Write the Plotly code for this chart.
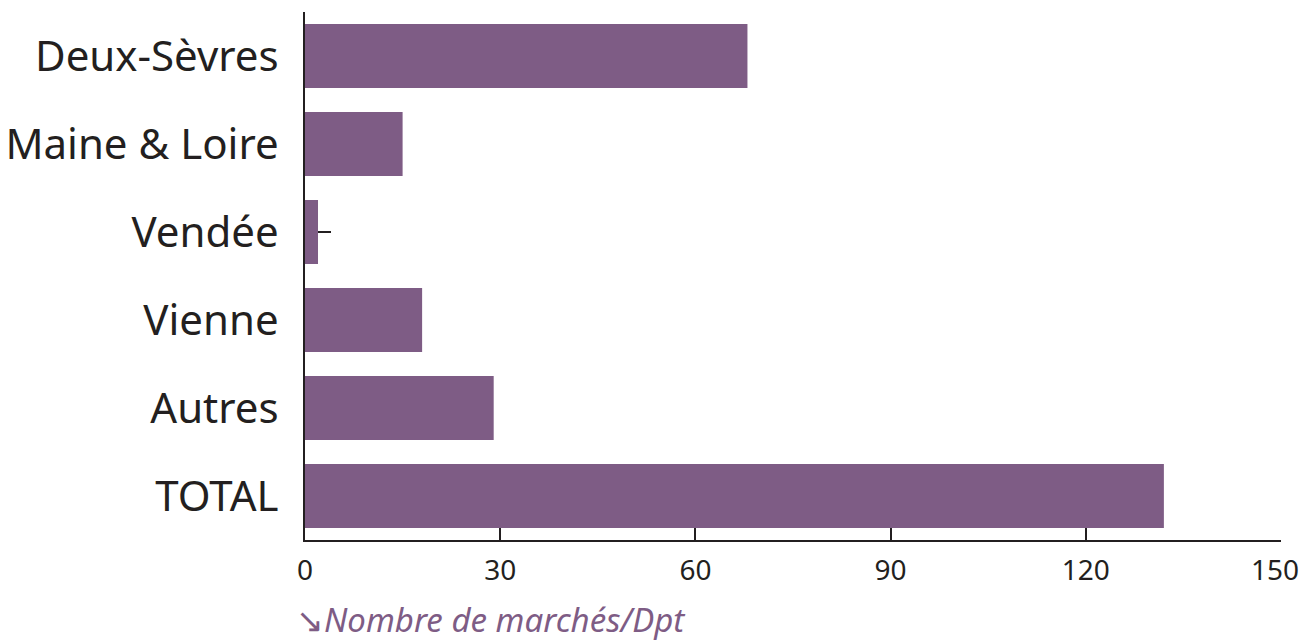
import plotly.graph_objects as go

departements = ["Deux-Sèvres", "Maine & Loire", "Vendée", "Vienne", "Autres", "TOTAL"]
nb_marches = [68, 15, 2, 18, 29, 132]
x_ticks = [0, 30, 60, 90, 120, 150]
x_labels = ["0", "30", "60", "90", "120", "150"]

violet = "#7e5c85"
noir = "#231f20"

fig = go.Figure(go.Bar(
    y=departements, x=nb_marches, orientation="h",
    marker=dict(color=violet, line=dict(width=0)),
))

fig.update_layout(
    width=1304, height=643,
    margin=dict(l=305, r=23, t=12, b=103),
    plot_bgcolor="white", paper_bgcolor="white",
    bargap=0.27,
    showlegend=False,
    font=dict(family="Noto Sans", color=noir),
)
# le dernier libellé (150) est posé à part pour rester dans le cadre
fig.update_xaxes(
    range=[0, 150], tickvals=x_ticks, ticktext=x_labels[:-1] + [""],
    showgrid=False, zeroline=False,
    showline=True, linecolor=noir, linewidth=2,
    ticks="inside", ticklen=12, tickwidth=2, tickcolor=noir,
    tickfont=dict(size=28, color=noir), ticklabelstandoff=4,
    automargin=False, ticklabeloverflow="allow",
)
fig.update_yaxes(
    autorange="reversed", showgrid=False, zeroline=False,
    showline=True, linecolor=noir, linewidth=2,
    ticks="inside", ticklen=26, tickwidth=2, tickcolor=noir,
    layer="below traces", automargin=False,
    tickfont=dict(size=42, color=noir), ticklabelstandoff=16,
)
fig.add_annotation(
    text=x_labels[-1], xref="x", yref="paper", x=x_ticks[-1], y=0,
    xanchor="right", yanchor="top", showarrow=False, xshift=20, yshift=-8,
    font=dict(size=28, color=noir),
)
fig.add_annotation(
    text="↘<i>Nombre de marchés/Dpt</i>", xref="paper", yref="paper",
    x=0, y=-0.195, xanchor="left", yanchor="bottom", showarrow=False,
    font=dict(size=33, color=violet, family="Noto Sans"), xshift=-10,
    borderpad=0,
)

# pas de marge autour de la figure dans la page
fig.write_html("out.html", config={"displayModeBar": False},
               post_script="document.body.style.margin = '0';")
